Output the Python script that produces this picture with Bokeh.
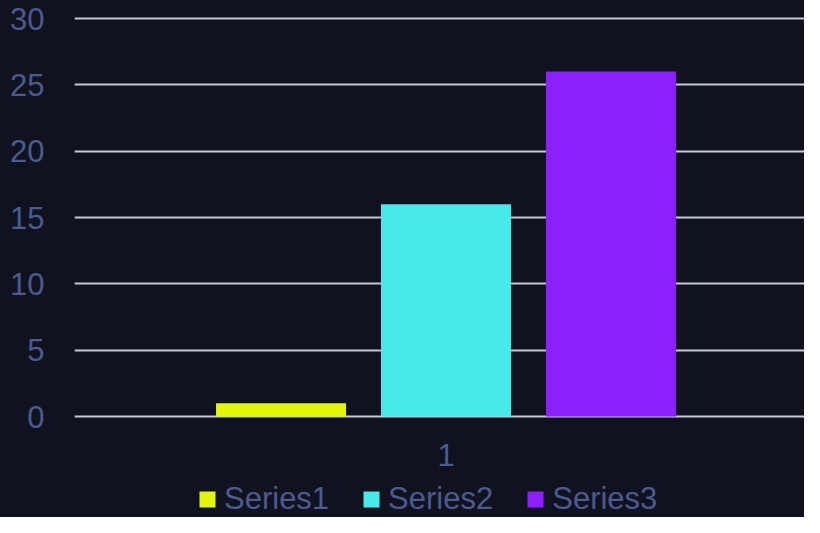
from bokeh.plotting import figure
from bokeh.layouts import column
from bokeh.models import ColumnDataSource, Range1d, FixedTicker, Legend, LegendItem
from bokeh.transform import dodge
from bokeh.embed import file_html
from bokeh.resources import INLINE

categories = ["1"]
series_names = ["Series1", "Series2", "Series3"]
series1 = [1]
series2 = [16]
series3 = [26]
y_ticks = [0, 5, 10, 15, 20, 25, 30]

colors = ["#e2f50b", "#48e9eb", "#8e1fff"]
BG = "#10131f"
TXT = "#4b5a8f"
GRID = "#c8c8d6"
FONT = "Liberation Sans"

x_pos = [i + 1 for i in range(len(categories))]
src = ColumnDataSource(dict(x=x_pos, s1=series1, s2=series2, s3=series3))

p = figure(width=804, height=473, output_backend="svg", toolbar_location=None,
           x_range=Range1d(0.5, 1.4825), y_range=Range1d(-0.3015, 30.754),
           min_border_left=74, min_border_right=0, min_border_top=8, min_border_bottom=53,
           background_fill_color=BG, border_fill_color=BG, outline_line_color=None,
           styles={"background-color": BG})

offsets = [-0.222, 0.0, 0.222]
for col, off, c in zip(["s1", "s2", "s3"], offsets, colors):
    p.vbar(x=dodge("x", off), top=col, bottom=0, width=0.175, source=src,
           fill_color=c, line_color=None)

p.xgrid.visible = False
p.ygrid.ticker = FixedTicker(ticks=y_ticks)
p.ygrid.grid_line_color = GRID
p.ygrid.grid_line_width = 2

p.yaxis.ticker = FixedTicker(ticks=y_ticks)
p.xaxis.ticker = FixedTicker(ticks=x_pos)
p.xaxis.major_label_overrides = {k: v for k, v in zip(x_pos, categories)}
for ax in (p.xaxis[0], p.yaxis[0]):
    ax.axis_line_color = None
    ax.major_tick_line_color = None
    ax.minor_tick_line_color = None
    ax.major_tick_out = 0
    ax.major_tick_in = 0
    ax.minor_tick_out = 0
    ax.major_label_text_color = TXT
    ax.major_label_text_font = FONT
    ax.major_label_text_font_size = "31px"
p.yaxis.major_label_standoff = 30
p.xaxis.major_label_standoff = 23

# legend strip below the chart
lg = figure(width=804, height=44, output_backend="svg", toolbar_location=None,
            x_range=Range1d(0, 1), y_range=Range1d(0, 1),
            x_axis_location=None, y_axis_location=None, min_border=0,
            background_fill_color=BG, border_fill_color=BG, outline_line_color=None,
            styles={"background-color": BG})
lg.xgrid.visible = False
lg.ygrid.visible = False
swatches = [lg.vbar(x=[0], top=[0], bottom=0, width=0, fill_color=c, line_color=None)
            for c in colors]
legend = Legend(items=[LegendItem(label=n, renderers=[r]) for n, r in zip(series_names, swatches)],
                orientation="horizontal", location=(123, 0),
                background_fill_alpha=0, border_line_color=None,
                label_text_color=TXT, label_text_font=FONT, label_text_font_size="31px",
                glyph_width=20, glyph_height=20, label_standoff=7, spacing=32,
                padding=0, margin=0)
lg.add_layout(legend, "center")

layout = column(p, lg, spacing=0, styles={"background-color": BG})
open("out.html", "w").write(file_html(layout, INLINE))
